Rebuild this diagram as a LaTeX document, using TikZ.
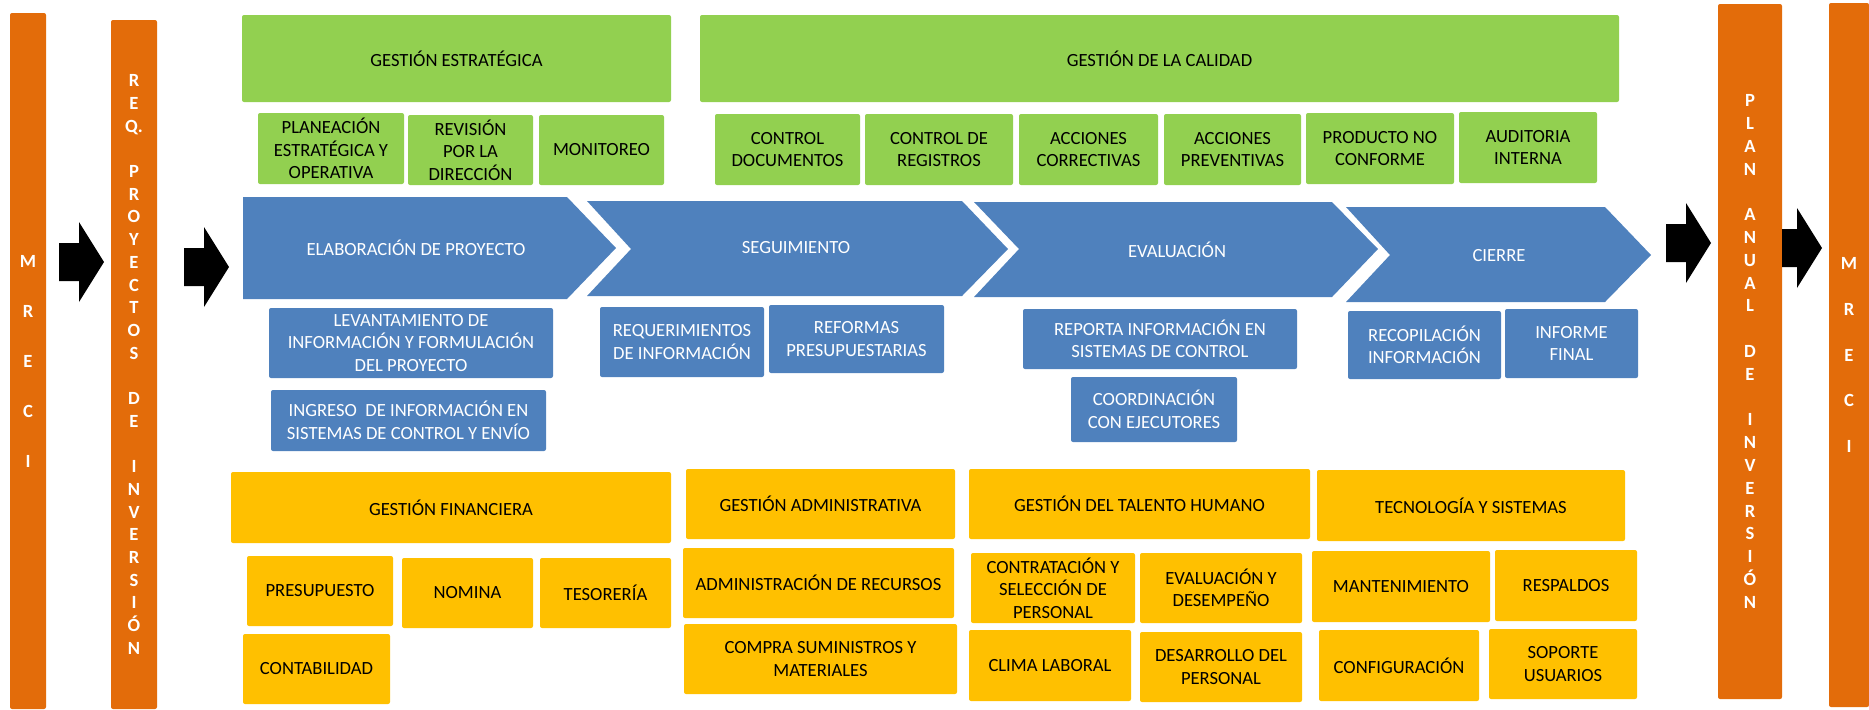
\documentclass[tikz,border=0pt]{standalone}
\usepackage{fontspec}
\setmainfont{Carlito}
\definecolor{barorange}{RGB}{227,108,10}
\definecolor{procblue}{RGB}{79,129,189}
\definecolor{calgreen}{RGB}{146,208,80}
\definecolor{supyellow}{RGB}{255,192,0}

% box from its corners: style, name, x1, y1, x2, y2, text
\newcommand{\caja}[7]{%
  \node[#1,minimum width={(#5-#3)*0.5pt},minimum height={(#6-#4)*0.5pt}]
    (#2) at ({(#3+#5)/2},{(#4+#6)/2}) {#7};}

\begin{document}
\begin{tikzpicture}[x=0.5pt,y=-0.5pt,font=\fontsize{9.3}{11.25}\selectfont,
    caja/.style={rounded corners=1pt,align=center,inner sep=1pt},
    verde/.style={caja,fill=calgreen},
    azul/.style={caja,fill=procblue,text=white},
    amarillo/.style={caja,fill=supyellow},
    barra/.style={caja,fill=barorange,text=white,inner sep=0pt}]
  \useasboundingbox (0,0) rectangle (1869,709);

  % orange bars at both ends
  \caja{barra,font=\bfseries\fontsize{9.3}{25}\selectfont}{mreciA}{10}{13}{46}{709}{M\\R\\E\\C\\I}
  \caja{barra,font=\bfseries\fontsize{9.3}{11.35}\selectfont}{reqproy}{111}{20}{157}{709}%
    {R\\E\\Q.\\[11.35pt]P\\R\\O\\Y\\E\\C\\T\\O\\S\\[11.35pt]D\\E\\[11.35pt]I\\N\\V\\E\\R\\S\\I\\Ó\\N}
  \caja{barra,font=\bfseries\fontsize{9.3}{11.4}\selectfont}{plananual}{1718}{4}{1782}{699}%
    {P\\L\\A\\N\\[11.4pt]A\\N\\U\\A\\L\\[11.4pt]D\\E\\[11.4pt]I\\N\\V\\E\\R\\S\\I\\Ó\\N}
  \caja{barra,font=\bfseries\fontsize{9.3}{22.9}\selectfont}{mreciB}{1829}{3}{1869}{707}{M\\R\\E\\C\\I}

  % block arrows between the bars
  \foreach \xa/\xb/\xc/\ym in {59/79/104/262,184/204/229/267,1666/1686/1711/243,1782/1797/1822/248}
    \fill (\xa,\ym-19) -- (\xb,\ym-19) -- (\xb,\ym-40) -- (\xc,\ym)
      -- (\xb,\ym+40) -- (\xb,\ym+19) -- (\xa,\ym+19) -- cycle;

  % strategic and quality management
  \caja{verde}{ge}{242}{15}{671}{102}{GESTIÓN ESTRATÉGICA}
  \caja{verde}{gc}{700}{15}{1619}{102}{GESTIÓN DE LA CALIDAD}
  \caja{verde}{pla}{258}{113}{404}{184}{PLANEACIÓN\\ESTRATÉGICA Y\\OPERATIVA}
  \caja{verde}{rev}{408}{115}{533}{185}{REVISIÓN\\POR LA\\DIRECCIÓN}
  \caja{verde}{mon}{539}{115}{664}{185}{MONITOREO}
  \caja{verde}{cdoc}{715}{114}{860}{185}{CONTROL\\DOCUMENTOS}
  \caja{verde}{creg}{865}{114}{1013}{185}{CONTROL DE\\REGISTROS}
  \caja{verde}{acor}{1019}{114}{1158}{185}{ACCIONES\\CORRECTIVAS}
  \caja{verde}{aprev}{1164}{114}{1301}{185}{ACCIONES\\PREVENTIVAS}
  \caja{verde}{pnc}{1306}{113}{1454}{184}{PRODUCTO NO\\CONFORME}
  \caja{verde}{aud}{1459}{112}{1597}{183}{AUDITORIA\\INTERNA}

  % project process chevrons
  \fill[procblue] (243,197) -- (567,197) -- (616,248) -- (567,299) -- (243,299) -- cycle;
  \fill[procblue] (587,201) -- (962,201) -- (1008,249) -- (962,296) -- (587,296) -- (631,249) -- cycle;
  \fill[procblue] (974,202) -- (1332,202) -- (1378,249) -- (1332,297) -- (974,297) -- (1019,249) -- cycle;
  \fill[procblue] (1346,207) -- (1605,207) -- (1651,255) -- (1605,302) -- (1346,302) -- (1390,255) -- cycle;
  \node[text=white] (elab) at (416,248) {ELABORACIÓN DE PROYECTO};
  \node[text=white] (seg) at (796,248) {SEGUIMIENTO};
  \node[text=white] (eval) at (1177,250) {EVALUACIÓN};
  \node[text=white] (cierre) at (1499,256) {CIERRE};

  % tasks of each phase
  \caja{azul}{lev}{269}{308}{553}{378}{LEVANTAMIENTO DE\\INFORMACIÓN Y FORMULACIÓN\\DEL PROYECTO}
  \caja{azul}{ing}{271}{390}{546}{451}{INGRESO\ \ DE INFORMACIÓN EN\\SISTEMAS DE CONTROL Y ENVÍO}
  \caja{azul}{reqi}{600}{307}{764}{377}{REQUERIMIENTOS\\DE INFORMACIÓN}
  \caja{azul}{ref}{769}{305}{944}{373}{REFORMAS\\PRESUPUESTARIAS}
  \caja{azul}{rep}{1023}{309}{1297}{369}{REPORTA INFORMACIÓN EN\\SISTEMAS DE CONTROL}
  \caja{azul}{coo}{1071}{377}{1237}{442}{COORDINACIÓN\\CON EJECUTORES}
  \caja{azul}{rec}{1348}{311}{1501}{379}{RECOPILACIÓN\\INFORMACIÓN}
  \caja{azul}{inf}{1505}{309}{1638}{378}{INFORME\\FINAL}

  % support areas
  \caja{amarillo}{gf}{231}{472}{671}{543}{GESTIÓN FINANCIERA}
  \caja{amarillo}{pre}{247}{556}{393}{626}{PRESUPUESTO}
  \caja{amarillo}{nom}{402}{558}{533}{628}{NOMINA}
  \caja{amarillo}{tes}{540}{558}{671}{628}{TESORERÍA}
  \caja{amarillo}{cont}{243}{634}{390}{704}{CONTABILIDAD}
  \caja{amarillo}{ga}{686}{469}{955}{539}{GESTIÓN ADMINISTRATIVA}
  \caja{amarillo}{adm}{683}{548}{954}{618}{ADMINISTRACIÓN DE RECURSOS}
  \caja{amarillo}{comp}{684}{624}{957}{694}{COMPRA SUMINISTROS Y\\MATERIALES}
  \caja{amarillo}{gth}{969}{469}{1310}{539}{GESTIÓN DEL TALENTO HUMANO}
  \caja{amarillo}{contr}{971}{553}{1135}{623}{CONTRATACIÓN Y\\SELECCIÓN DE\\PERSONAL}
  \caja{amarillo}{evd}{1140}{553}{1302}{623}{EVALUACIÓN Y\\DESEMPEÑO}
  \caja{amarillo}{cli}{969}{630}{1131}{701}{CLIMA LABORAL}
  \caja{amarillo}{des}{1140}{632}{1302}{702}{DESARROLLO DEL\\PERSONAL}
  \caja{amarillo}{tys}{1317}{470}{1625}{541}{TECNOLOGÍA Y SISTEMAS}
  \caja{amarillo}{man}{1312}{551}{1490}{622}{MANTENIMIENTO}
  \caja{amarillo}{resp}{1495}{550}{1637}{621}{RESPALDOS}
  \caja{amarillo}{cfg}{1319}{630}{1479}{701}{CONFIGURACIÓN}
  \caja{amarillo}{sop}{1489}{629}{1637}{699}{SOPORTE\\USUARIOS}
\end{tikzpicture}
\end{document}
